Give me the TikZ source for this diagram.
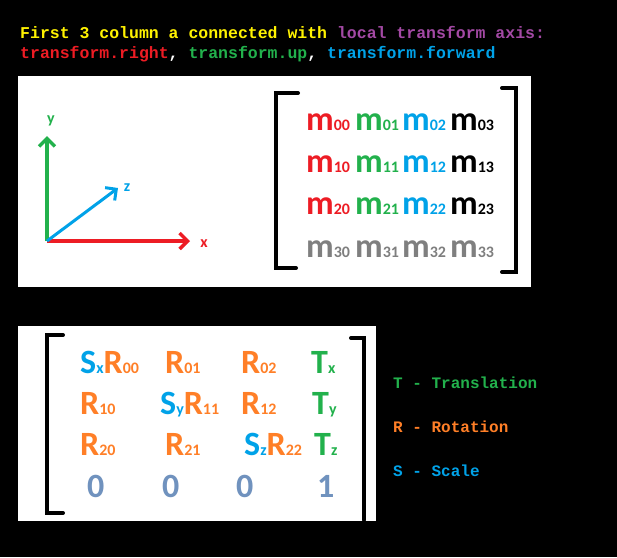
\documentclass[tikz,border=0pt]{standalone}
\usepackage{fontspec}
\usetikzlibrary{arrows.meta}
\setmainfont{Carlito}
\newfontfamily\monob{Liberation Mono}
\definecolor{cred}{RGB}{237,28,36}
\definecolor{cgreen}{RGB}{34,177,76}
\definecolor{cblue}{RGB}{0,162,232}
\definecolor{corange}{RGB}{255,127,39}
\definecolor{cgray}{RGB}{127,127,127}
\definecolor{czero}{RGB}{112,146,190}
\definecolor{cyellow}{RGB}{255,242,0}
\definecolor{cpurple}{RGB}{163,73,164}
\begin{document}
\begin{tikzpicture}[x=1pt,y=-1pt,
  mono/.style={font=\monob\bfseries\fontsize{16.5}{18}\selectfont,anchor=base west,inner sep=0},
  ent/.style={font=\bfseries\fontsize{34}{36}\selectfont,anchor=base west,inner sep=0},
  brk/.style={line width=4pt,line cap=round},
  axis/.style={line width=3.5pt,-{Straight Barb[length=8pt,width=16pt]}},
  lab/.style={font=\bfseries\fontsize{16}{18}\selectfont,inner sep=0}]
\newcommand{\sbs}[1]{\fontsize{16}{18}\selectfont #1}
\fill[black] (0,0) rectangle (617,557);
\useasboundingbox (0,0) rectangle (617,557);
\node[mono] (t1) at (20,38) {\textcolor{cyellow}{First 3 column a connected with }\textcolor{cpurple}{local transform axis:}};
\node[mono] (t2) at (20,58) {\textcolor{cred}{transform.right}\textcolor{white}{, }\textcolor{cgreen}{transform.up}\textcolor{white}{, }\textcolor{cblue}{transform.forward}};
\fill[white] (18,76) rectangle (531,287);
\fill[white] (18,326) rectangle (376,521);
% axes
\coordinate (o) at (47,241);
\coordinate (yend) at (47,136);
\coordinate (xend) at (190,241);
\coordinate (zend) at (118,188);
\draw[axis,cgreen] (o) -- (yend);
\draw[axis,cred] (o) -- (xend);
\draw[axis,cblue,line width=3pt] (o) -- (zend);
\node[lab,text=cgreen] (ly) at (51,121) {y};
\node[lab,text=cred] (lx) at (204,244) {x};
\node[lab,text=cblue] (lz) at (127,188) {z};
% matrix 1 brackets
\draw[brk] (298,93) -- (276,93) -- (276,268) -- (296,268);
\draw[brk] (502,88) -- (516,88) -- (516,272) -- (502,272);
\foreach \r/\yy in {0/130,1/172,2/214,3/257}{
  \foreach \c/\xx/\col in {0/306/cred,1/355/cgreen,2/402/cblue,3/450/black}{
    \ifnum\r=3 \def\cc{cgray}\else\def\cc{\col}\fi
    \node[ent,text=\cc] (m\r\c) at (\xx,\yy) {m\sbs{\r\c}};
  }
}
% matrix 2 brackets
\draw[brk] (63,335) -- (47,335) -- (47,513) -- (63,513);
\draw[brk] (351,338) -- (364,338) -- (364,520);
\node[ent] (a00) at (80,373) {\textcolor{cblue}{S\sbs{x}}\textcolor{corange}{R\sbs{00}}};
\node[ent,text=corange] (a01) at (165,373) {R\sbs{01}};
\node[ent,text=corange] (a02) at (241,373) {R\sbs{02}};
\node[ent,text=cgreen] (a03) at (311,373) {T\sbs{x}};
\node[ent,text=corange] (a10) at (80,414) {R\sbs{10}};
\node[ent] (a11) at (160,414) {\textcolor{cblue}{S\sbs{y}}\textcolor{corange}{R\sbs{11}}};
\node[ent,text=corange] (a12) at (241,414) {R\sbs{12}};
\node[ent,text=cgreen] (a13) at (312,414) {T\sbs{y}};
\node[ent,text=corange] (a20) at (80,455) {R\sbs{20}};
\node[ent,text=corange] (a21) at (165,455) {R\sbs{21}};
\node[ent] (a22) at (244,455) {\textcolor{cblue}{S\sbs{z}}\textcolor{corange}{R\sbs{22}}};
\node[ent,text=cgreen] (a23) at (314,455) {T\sbs{z}};
\node[ent,text=czero] (a30) at (87,497) {0};
\node[ent,text=czero] (a31) at (162,497) {0};
\node[ent,text=czero] (a32) at (236,497) {0};
\node[ent,text=czero] (a33) at (317,497) {1};
% legend
\node[mono,text=cgreen,font=\monob\bfseries\fontsize{16}{18}\selectfont] (lt) at (393,388) {T - Translation};
\node[mono,text=corange,font=\monob\bfseries\fontsize{16}{18}\selectfont] (lr) at (393,432) {R - Rotation};
\node[mono,text=cblue,font=\monob\bfseries\fontsize{16}{18}\selectfont] (ls) at (393,476) {S - Scale};
\end{tikzpicture}
\end{document}
